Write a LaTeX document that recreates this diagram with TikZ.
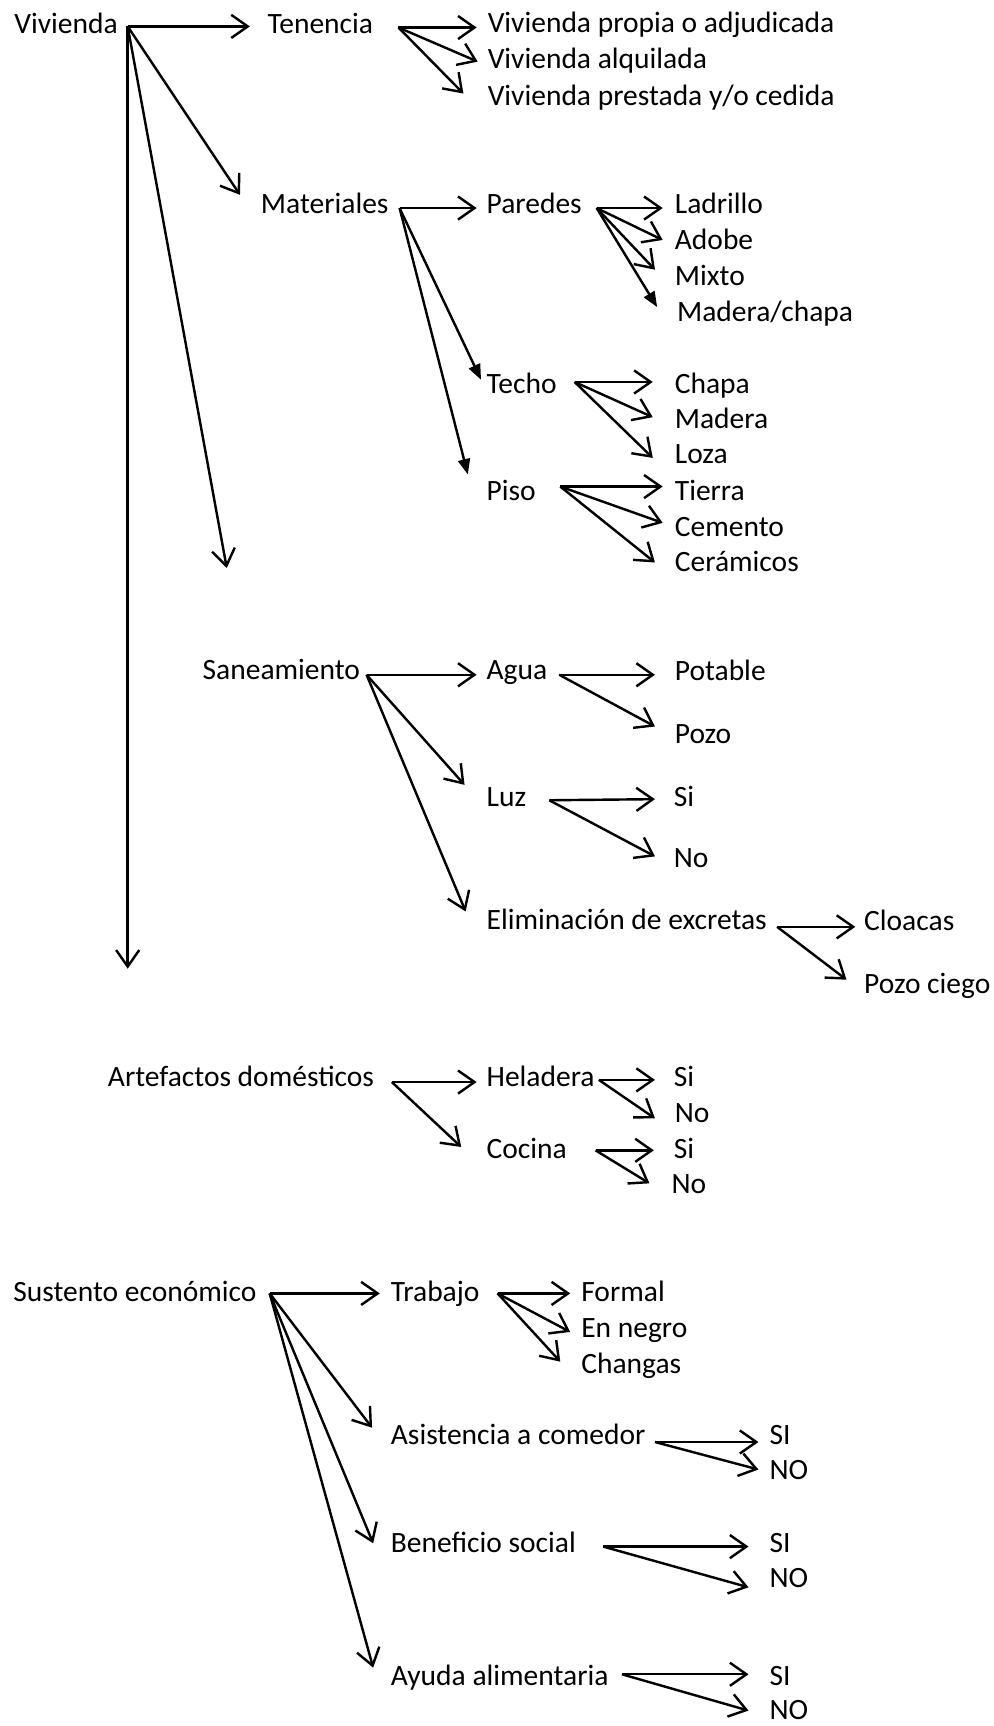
\documentclass[tikz,border=0pt]{standalone}
\usepackage{fontspec}
\setmainfont{Carlito}
\usetikzlibrary{arrows.meta}
\begin{document}
\begin{tikzpicture}[x=0.5pt, y=-0.5pt, line width=1.1pt, font=\fontsize{13.4}{15}\selectfont,
    >={Straight Barb[length=7.5pt,width=10.5pt]},
    lbl/.style={anchor=west, inner sep=0pt, text height=7.4pt, text depth=0pt},
    solid tip/.style={-{Triangle[length=7pt,width=5.5pt]}}]
\useasboundingbox (0,0) rectangle (903,1568);
% vivienda
\node[lbl] (viv) at (12,23) {Vivienda};
\node[lbl] (ten) at (242,23) {Tenencia};
\node[lbl] (prop) at (442,22) {Vivienda propia o adjudicada};
\node[lbl] (alq) at (442,55) {Vivienda alquilada};
\node[lbl] (pres) at (442,88) {Vivienda prestada y/o cedida};
\node[lbl] (mat) at (236,187) {Materiales};
\node[lbl] (par) at (441,187) {Paredes};
\node[lbl] (lad) at (612,187) {Ladrillo};
\node[lbl] (ado) at (612,219) {Adobe};
\node[lbl] (mix) at (612,252) {Mixto};
\node[lbl] (madch) at (614,285) {Madera/chapa};
\node[lbl] (tec) at (441,350) {Techo};
\node[lbl] (cha) at (612,350) {Chapa};
\node[lbl] (mad) at (612,382) {Madera};
\node[lbl] (loz) at (612,414) {Loza};
\node[lbl] (pis) at (441,447) {Piso};
\node[lbl] (tie) at (612,447) {Tierra};
\node[lbl] (cem) at (612,480) {Cemento};
\node[lbl] (cer) at (612,512) {Cerámicos};
\node[lbl] (san) at (183,610) {Saneamiento};
\node[lbl] (agu) at (441,610) {Agua};
\node[lbl] (pot) at (612,611) {Potable};
\node[lbl] (poz) at (612,668) {Pozo};
\node[lbl] (luz) at (441,725) {Luz};
\node[lbl] (luzsi) at (611,725) {Si};
\node[lbl] (luzno) at (611,781) {No};
\node[lbl] (eli) at (441,837) {Eliminación de excretas};
\node[lbl] (clo) at (784,838) {Cloacas};
\node[lbl] (pzc) at (784,895) {Pozo ciego};
% artefactos
\node[lbl] (art) at (97,980) {Artefactos domésticos};
\node[lbl] (hel) at (441,980) {Heladera};
\node[lbl] (helsi) at (611,980) {Si};
\node[lbl] (helno) at (612,1012) {No};
\node[lbl] (coc) at (441,1045) {Cocina};
\node[lbl] (cocsi) at (611,1045) {Si};
\node[lbl] (cocno) at (609,1077) {No};
% sustento
\node[lbl] (sus) at (11,1175) {Sustento económico};
\node[lbl] (tra) at (354,1175) {Trabajo};
\node[lbl] (frm) at (527,1175) {Formal};
\node[lbl] (neg) at (527,1208) {En negro};
\node[lbl] (chg) at (527,1240) {Changas};
\node[lbl] (asi) at (354,1305) {Asistencia a comedor};
\node[lbl] (asisi) at (698,1305) {SI};
\node[lbl] (asino) at (698,1337) {NO};
\node[lbl] (ben) at (354,1403) {Beneficio social};
\node[lbl] (bensi) at (698,1403) {SI};
\node[lbl] (benno) at (698,1435) {NO};
\node[lbl] (ayu) at (354,1524) {Ayuda alimentaria};
\node[lbl] (ayusi) at (698,1524) {SI};
\node[lbl] (ayuno) at (698,1555) {NO};

\coordinate (vivf) at (116,24);
\coordinate (vivs) at (206,516);
\coordinate (viva) at (116,880);
\coordinate (tenf) at (362,25);
\coordinate (matf) at (363,189);
\coordinate (parf) at (542,189);
\coordinate (tecf) at (522,347);
\coordinate (pisf) at (509,442);
\coordinate (sanf) at (333,613);
\coordinate (aguf) at (508,613);
\coordinate (luzf) at (499,727);
\coordinate (elif) at (706,842);
\coordinate (artf) at (356,983);
\coordinate (helf) at (544,981);
\coordinate (cocf) at (541,1045);
\coordinate (susf) at (245,1175);
\coordinate (traf) at (452,1175);
\coordinate (asif) at (595,1310);
\coordinate (benf) at (548,1405);
\coordinate (ayuf) at (565,1521);

\draw[->] (vivf) -- ([shift={(-15,1)}]ten.west);
\draw[->] (vivf) -- ([shift={(-18,-10)}]mat.west);
\draw[->] (vivf) -- (vivs);
\draw[->] (vivf) -- (viva);
\draw[->] (tenf) -- ([shift={(-9,3)}]prop.west);
\draw[->] (tenf) -- ([shift={(-8,1)}]alq.west);
\draw[->] (tenf) -- ([shift={(-21,-3)}]pres.west);
\draw[->] (matf) -- ([shift={(-8,2)}]par.west);
\draw[solid tip] (matf) -- ([shift={(-4,-5)}]tec.west);
\draw[solid tip] (matf) -- ([shift={(-16,-16)}]pis.west);
\draw[->] (parf) -- ([shift={(-10,2)}]lad.west);
\draw[->] (parf) -- ([shift={(-10,-1)}]ado.west);
\draw[->] (parf) -- ([shift={(-17,-7)}]mix.west);
\draw[solid tip] (parf) -- ([shift={(-17,-6)}]madch.west);
\draw[->] (tecf) -- ([shift={(-19,-3)}]cha.west);
\draw[->] (tecf) -- ([shift={(-19,-3)}]mad.west);
\draw[->] (tecf) -- ([shift={(-19,2)}]loz.west);
\draw[->] (pisf) -- ([shift={(-10,-5)}]tie.west);
\draw[->] (pisf) -- ([shift={(-10,-5)}]cem.west);
\draw[->] (pisf) -- ([shift={(-17,-1)}]cer.west);
\draw[->] (sanf) -- ([shift={(-8,3)}]agu.west);
\draw[->] (sanf) -- ([shift={(-19,-12)}]luz.west);
\draw[->] (sanf) -- ([shift={(-18,-9)}]eli.west);
\draw[->] (aguf) -- ([shift={(-17,2)}]pot.west);
\draw[->] (aguf) -- ([shift={(-17,-8)}]poz.west);
\draw[->] (luzf) -- ([shift={(-16,1)}]luzsi.west);
\draw[->] (luzf) -- ([shift={(-16,-3)}]luzno.west);
\draw[->] (elif) -- ([shift={(-7,4)}]clo.west);
\draw[->] (elif) -- ([shift={(-15,-5)}]pzc.west);
\draw[->] (artf) -- ([shift={(-8,3)}]hel.west);
\draw[->] (artf) -- ([shift={(-22,-3)}]coc.west);
\draw[->] (helf) -- ([shift={(-16,1)}]helsi.west);
\draw[->] (helf) -- ([shift={(-17,4)}]helno.west);
\draw[->] (cocf) -- ([shift={(-17,0)}]cocsi.west);
\draw[->] (cocf) -- ([shift={(-19,-2)}]cocno.west);
\draw[->] (susf) -- ([shift={(-9,0)}]tra.west);
\draw[->] (susf) -- ([shift={(-16,-8)}]asi.west);
\draw[->] (susf) -- ([shift={(-15,-1)}]ben.west);
\draw[->] (susf) -- ([shift={(-15,-9)}]ayu.west);
\draw[->] (traf) -- ([shift={(-9,0)}]frm.west);
\draw[->] (traf) -- ([shift={(-9,2)}]neg.west);
\draw[->] (traf) -- ([shift={(-18,-3)}]chg.west);
\draw[->] (asif) -- ([shift={(-9,5)}]asisi.west);
\draw[->] (asif) -- ([shift={(-9,-2)}]asino.west);
\draw[->] (benf) -- ([shift={(-18,2)}]bensi.west);
\draw[->] (benf) -- ([shift={(-18,7)}]benno.west);
\draw[->] (ayuf) -- ([shift={(-18,-3)}]ayusi.west);
\draw[->] (ayuf) -- ([shift={(-18,-1)}]ayuno.west);
\end{tikzpicture}
\end{document}
